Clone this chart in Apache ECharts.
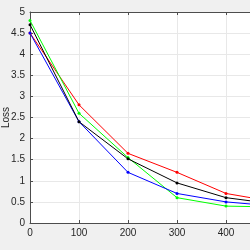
<!DOCTYPE html>
<html><head><meta charset="utf-8">
<script src="https://cdn.jsdelivr.net/npm/echarts@6/dist/echarts.min.js"></script>
<style>html,body{margin:0;padding:0;background:#f0f0f0}#c{width:250px;height:250px}</style>
</head><body><div id="c"></div>
<script>
const xValues = [0, 100, 200, 300, 400, 500];
const redLoss = [4.5, 2.8, 1.65, 1.2, 0.7, 0.5];
const greenLoss = [4.8, 2.6, 1.55, 0.6, 0.4, 0.38];
const blueLoss = [4.5, 2.4, 1.2, 0.7, 0.5, 0.4];
const blackLoss = [4.7, 2.4, 1.52, 0.95, 0.6, 0.45];
const yTicks = [0, 0.5, 1, 1.5, 2, 2.5, 3, 3.5, 4, 4.5, 5];

function pairs(v){ return xValues.map((x,i)=>[x,v[i]]); }
function mk(name, data, color){
  return {name, type:'line', data:pairs(data), xAxisIndex:0, yAxisIndex:0,
    symbol:'circle', symbolSize:3, showSymbol:true,
    lineStyle:{color, width:1}, itemStyle:{color}, animation:false};
}
const axisCol = '#4d4d4d';
const chart = echarts.init(document.getElementById('c'));
chart.setOption({
  backgroundColor:'#f0f0f0',
  animation:false,
  grid:{left:30, top:12, right:-25, bottom:27, show:true, backgroundColor:'#ffffff', borderWidth:0,
    containLabel:false, outerBoundsMode:'none'},
  xAxis:[{type:'value', min:0, max:500, interval:100, position:'bottom',
    axisLine:{show:true, lineStyle:{color:axisCol, width:1}},
    axisTick:{show:true, inside:true, length:3, lineStyle:{color:axisCol}},
    axisLabel:{color:'#262626', fontSize:10, fontFamily:'Liberation Sans', margin:5},
    splitLine:{show:true, lineStyle:{color:'#e8e8e8', width:1}}},
   {type:'value', min:0, max:500, interval:100, position:'top',
    axisLine:{show:true, lineStyle:{color:axisCol, width:1}},
    axisTick:{show:true, inside:true, length:3, lineStyle:{color:axisCol}},
    axisLabel:{show:false}, splitLine:{show:false}}],
  yAxis:[{type:'value', min:yTicks[0], max:yTicks[yTicks.length-1], interval:0.5,
    name:'Loss', nameLocation:'middle', nameGap:19, nameRotate:90, nameMoveOverlap:false,
    nameTextStyle:{color:'#262626', fontSize:10, fontFamily:'Liberation Sans'},
    axisLine:{show:true, lineStyle:{color:axisCol, width:1}},
    axisTick:{show:true, inside:true, length:3, lineStyle:{color:axisCol}},
    axisLabel:{color:'#262626', fontSize:10, fontFamily:'Liberation Sans', margin:5},
    splitLine:{show:true, lineStyle:{color:'#e8e8e8', width:1}}}],
  series:[
    mk('red', redLoss, '#ff0000'),
    mk('green', greenLoss, '#00ff00'),
    mk('blue', blueLoss, '#0000ff'),
    mk('black', blackLoss, '#000000')
  ]
});
</script></body></html>
